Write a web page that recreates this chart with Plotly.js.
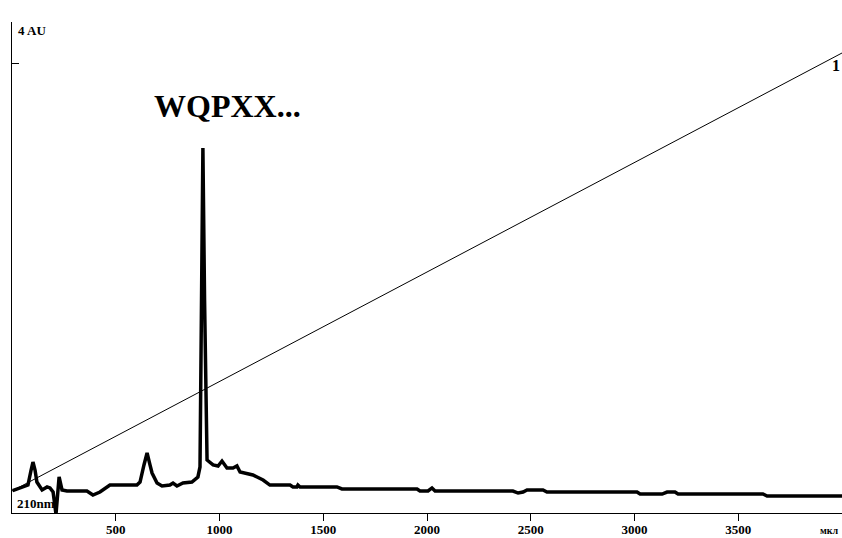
<!DOCTYPE html>
<html>
<head>
<meta charset="utf-8">
<script src="https://cdn.plot.ly/plotly-3.0.1.min.js"></script>
<style>html,body{margin:0;padding:0;background:#fff;}#chart{width:842px;height:538px;}</style>
</head>
<body>
<div id="chart"></div>
<script>
// Volume (мкл)
const volume = [3, 39, 77, 92, 101, 111, 120, 145, 169, 183, 198, 212, 217, 227, 241, 265, 361, 390, 424, 472,
  602, 617, 636, 651, 665, 675, 699, 723, 761, 776, 795, 824, 867, 896, 906, 913, 920, 928, 935, 940,
  969, 993, 1012, 1036, 1065, 1084, 1099, 1161, 1181, 1210, 1243, 1340, 1354, 1373, 1378, 1388, 1566, 1590,
  1952, 1966, 2005, 2024, 2039, 2414, 2439, 2463, 2482, 2559, 2578, 3012, 3027, 3133, 3157, 3195, 3210,
  3619, 3639, 4000];
// Absorbance at 210 nm (AU)
const absorbance = [0.199, 0.223, 0.249, 0.383, 0.454, 0.383, 0.276, 0.205, 0.232, 0.223, 0.187, -0.01, 0.143, 0.321, 0.205, 0.196, 0.196, 0.160, 0.187, 0.249,
  0.249, 0.276, 0.428, 0.535, 0.428, 0.356, 0.267, 0.241, 0.249, 0.267, 0.241, 0.267, 0.276, 0.321, 0.410, 1.898, 3.252, 1.898, 0.650, 0.472,
  0.428, 0.419, 0.463, 0.401, 0.401, 0.419, 0.365, 0.339, 0.321, 0.294, 0.249, 0.249, 0.232, 0.232, 0.249, 0.232, 0.232, 0.214,
  0.214, 0.196, 0.196, 0.223, 0.196, 0.196, 0.178, 0.187, 0.205, 0.205, 0.187, 0.187, 0.169, 0.169, 0.187, 0.187, 0.169,
  0.169, 0.151, 0.151];
// Gradient (% B)
const gradientVolume = [0, 4000];
const gradientPercent = [0, 100];

const xTickVals = [500, 1000, 1500, 2000, 2500, 3000, 3500, 4000];
const xTickText = ['500', '1000', '1500', '2000', '2500', '3000', '3500', ''];
const yTickVals = [4];

const serif = '"Liberation Serif", "Times New Roman", serif';

const traces = [
  {x: gradientVolume, y: gradientPercent, type: 'scatter', mode: 'lines', yaxis: 'y2',
   line: {color: '#000', width: 1}, hoverinfo: 'skip'},
  {x: volume, y: absorbance, type: 'scatter', mode: 'lines',
   line: {color: '#000', width: 3.5, shape: 'linear'}}
];

const layout = {
  width: 842, height: 538,
  margin: {l: 12, r: 0, t: 22, b: 25},
  paper_bgcolor: '#fff', plot_bgcolor: '#fff',
  showlegend: false,
  font: {family: serif, color: '#000'},
  xaxis: {
    range: [0, 4000], showgrid: false, zeroline: false,
    showline: true, linecolor: '#000', linewidth: 1,
    ticks: 'outside', ticklen: 7, tickcolor: '#000', tickwidth: 1,
    tickvals: xTickVals, ticktext: xTickText,
    ticklabelstandoff: -3,
    tickfont: {family: serif, size: 13, weight: 'bold', color: '#000'}
  },
  yaxis: {
    range: [0, 4.374], showgrid: false, zeroline: false,
    showline: true, linecolor: '#000', linewidth: 1,
    ticks: 'inside', ticklen: 7, tickcolor: '#000', tickwidth: 1,
    tickvals: yTickVals, showticklabels: false
  },
  yaxis2: {
    overlaying: 'y', range: [-5.02, 107.08], visible: false
  },
  annotations: [
    {xref: 'paper', yref: 'paper', x: 0.0048, y: 0.9817, xanchor: 'left', yanchor: 'middle',
     text: '4 AU', showarrow: false, font: {family: serif, size: 13, weight: 'bold', color: '#000'}},
    {xref: 'paper', yref: 'paper', x: 0.0036, y: 0, xanchor: 'left', yanchor: 'bottom',
     text: '210nm', showarrow: false, font: {family: serif, size: 13, weight: 'bold', color: '#000'}},
    {xref: 'paper', yref: 'paper', x: 0.260, y: 0.829, xanchor: 'center', yanchor: 'middle',
     text: 'WQPXX...', showarrow: false, font: {family: serif, size: 32, weight: 'bold', color: '#000'}},
    {xref: 'paper', yref: 'paper', x: 1, y: 0.912, xanchor: 'right', yanchor: 'middle',
     text: '1', showarrow: false, font: {family: serif, size: 16, weight: 'bold', color: '#000'}},
    {xref: 'paper', yref: 'paper', x: 0.985, y: -0.036, xanchor: 'center', yanchor: 'middle',
     text: 'мкл', showarrow: false, font: {family: serif, size: 10, weight: 'bold', color: '#000'}}
  ]
};

Plotly.newPlot('chart', traces, layout, {staticPlot: true, displayModeBar: false});
</script>
</body>
</html>
